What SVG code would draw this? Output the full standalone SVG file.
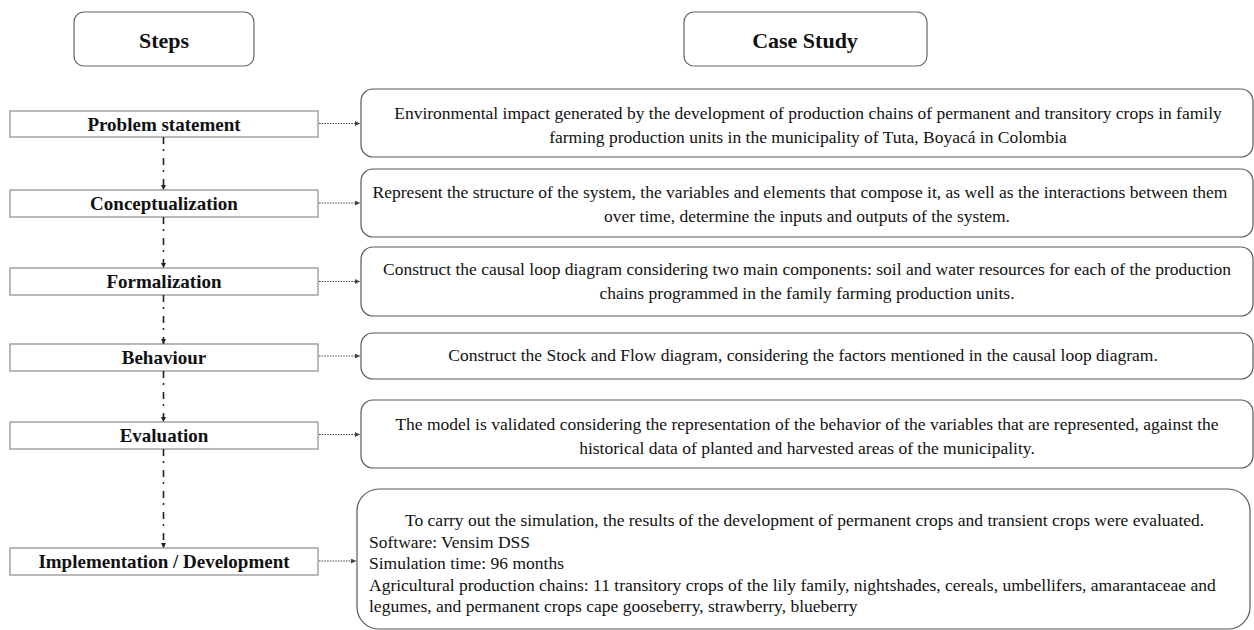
<svg xmlns="http://www.w3.org/2000/svg" width="1254" height="630" viewBox="0 0 1254 630">
  <style>
    .hdr { fill: #fff; stroke: #666; stroke-width: 1.2; }
    .step { fill: #fff; stroke: #8a8a8a; stroke-width: 1.2; }
    .case { fill: #fff; stroke: #5a5a5a; stroke-width: 1.2; }
    .ht { font-family: "Liberation Serif", "Times New Roman", serif; font-weight: bold; font-size: 22px; fill: #111; text-anchor: middle; }
    .st { font-family: "Liberation Serif", "Times New Roman", serif; font-weight: bold; font-size: 19px; fill: #111; text-anchor: middle; }
    .ct { font-family: "Liberation Serif", "Times New Roman", serif; font-size: 17.5px; fill: #111; }
    .mid { text-anchor: middle; }
    .vline { stroke: #222; stroke-width: 1.6; fill: none; stroke-dasharray: 7 5 2 7; }
    .hline { stroke: #444; stroke-width: 1.2; fill: none; stroke-dasharray: 1.5 1.2; }
  </style>
  <defs>
    <marker id="av" viewBox="0 0 10 10" refX="10" refY="5" markerWidth="5" markerHeight="5" orient="auto" markerUnits="userSpaceOnUse">
      <path d="M0,0 L10,5 L0,10 Z" fill="#222"/>
    </marker>
    <marker id="ah" viewBox="0 0 10 10" refX="10" refY="5" markerWidth="5" markerHeight="5" orient="auto" markerUnits="userSpaceOnUse">
      <path d="M0,0 L10,5 L0,10 Z" fill="#444"/>
    </marker>
  </defs>

  <g id="header-steps">
    <rect class="hdr" x="74" y="12" width="180" height="54" rx="10"/>
    <text class="ht" x="164" y="48">Steps</text>
  </g>
  <g id="header-case">
    <rect class="hdr" x="684" y="12" width="243" height="54" rx="10"/>
    <text class="ht" x="805" y="48">Case Study</text>
  </g>

  <g id="step-problem">
    <rect class="step" x="10" y="111" width="308" height="26"/>
    <text class="st" x="164" y="130.5">Problem statement</text>
  </g>
  <g id="step-conceptualization">
    <rect class="step" x="10" y="190" width="308" height="27"/>
    <text class="st" x="164" y="210">Conceptualization</text>
  </g>
  <g id="step-formalization">
    <rect class="step" x="10" y="268" width="308" height="27"/>
    <text class="st" x="164" y="288">Formalization</text>
  </g>
  <g id="step-behaviour">
    <rect class="step" x="10" y="344" width="308" height="27"/>
    <text class="st" x="164" y="364">Behaviour</text>
  </g>
  <g id="step-evaluation">
    <rect class="step" x="10" y="422" width="308" height="27"/>
    <text class="st" x="164" y="442">Evaluation</text>
  </g>
  <g id="step-implementation">
    <rect class="step" x="10" y="548" width="308" height="27"/>
    <text class="st" x="164" y="568">Implementation / Development</text>
  </g>

  <g id="case-1">
    <rect class="case" x="361" y="89" width="892" height="68" rx="12"/>
    <text class="ct mid" x="808" y="119">Environmental impact generated by the development of production chains of permanent and transitory crops in family</text>
    <text class="ct mid" x="808" y="143">farming production units in the municipality of Tuta, Boyacá in Colombia</text>
  </g>
  <g id="case-2">
    <rect class="case" x="361" y="169" width="892" height="68" rx="12"/>
    <text class="ct mid" x="800" y="198">Represent the structure of the system, the variables and elements that compose it, as well as the interactions between them</text>
    <text class="ct mid" x="807" y="222">over time, determine the inputs and outputs of the system.</text>
  </g>
  <g id="case-3">
    <rect class="case" x="361" y="247" width="892" height="69" rx="12"/>
    <text class="ct mid" x="807" y="275">Construct the causal loop diagram considering two main components: soil and water resources for each of the production</text>
    <text class="ct mid" x="807" y="299">chains programmed in the family farming production units.</text>
  </g>
  <g id="case-4">
    <rect class="case" x="361" y="333" width="892" height="46" rx="12"/>
    <text class="ct mid" x="803" y="361">Construct the Stock and Flow diagram, considering the factors mentioned in the causal loop diagram.</text>
  </g>
  <g id="case-5">
    <rect class="case" x="361" y="400" width="892" height="68" rx="12"/>
    <text class="ct mid" x="807" y="430">The model is validated considering the representation of the behavior of the variables that are represented, against the</text>
    <text class="ct mid" x="807" y="454">historical data of planted and harvested areas of the municipality.</text>
  </g>
  <g id="case-6">
    <rect class="case" x="357" y="489" width="893" height="140" rx="22"/>
    <text class="ct" x="405" y="526">To carry out the simulation, the results of the development of permanent crops and transient crops were evaluated.</text>
    <text class="ct" x="369" y="547.5">Software: Vensim DSS</text>
    <text class="ct" x="369" y="569">Simulation time: 96 months</text>
    <text class="ct" x="369" y="590.5">Agricultural production chains: 11 transitory crops of the lily family, nightshades, cereals, umbellifers, amarantaceae and</text>
    <text class="ct" x="369" y="612">legumes, and permanent crops cape gooseberry, strawberry, blueberry</text>
  </g>

  <g id="connectors">
    <line class="vline" x1="163.5" y1="137" x2="163.5" y2="190" marker-end="url(#av)"/>
    <line class="vline" x1="163.5" y1="217" x2="163.5" y2="268" marker-end="url(#av)"/>
    <line class="vline" x1="163.5" y1="295" x2="163.5" y2="344" marker-end="url(#av)"/>
    <line class="vline" x1="163.5" y1="371" x2="163.5" y2="422" marker-end="url(#av)"/>
    <line class="vline" x1="163.5" y1="449" x2="163.5" y2="548" marker-end="url(#av)"/>
    <line class="hline" x1="319" y1="123.5" x2="360" y2="123.5" marker-end="url(#ah)"/>
    <line class="hline" x1="319" y1="203" x2="360" y2="203" marker-end="url(#ah)"/>
    <line class="hline" x1="319" y1="281.5" x2="360" y2="281.5" marker-end="url(#ah)"/>
    <line class="hline" x1="319" y1="356" x2="360" y2="356" marker-end="url(#ah)"/>
    <line class="hline" x1="319" y1="434.5" x2="360" y2="434.5" marker-end="url(#ah)"/>
    <line class="hline" x1="319" y1="561" x2="356" y2="561" marker-end="url(#ah)"/>
  </g>
</svg>
